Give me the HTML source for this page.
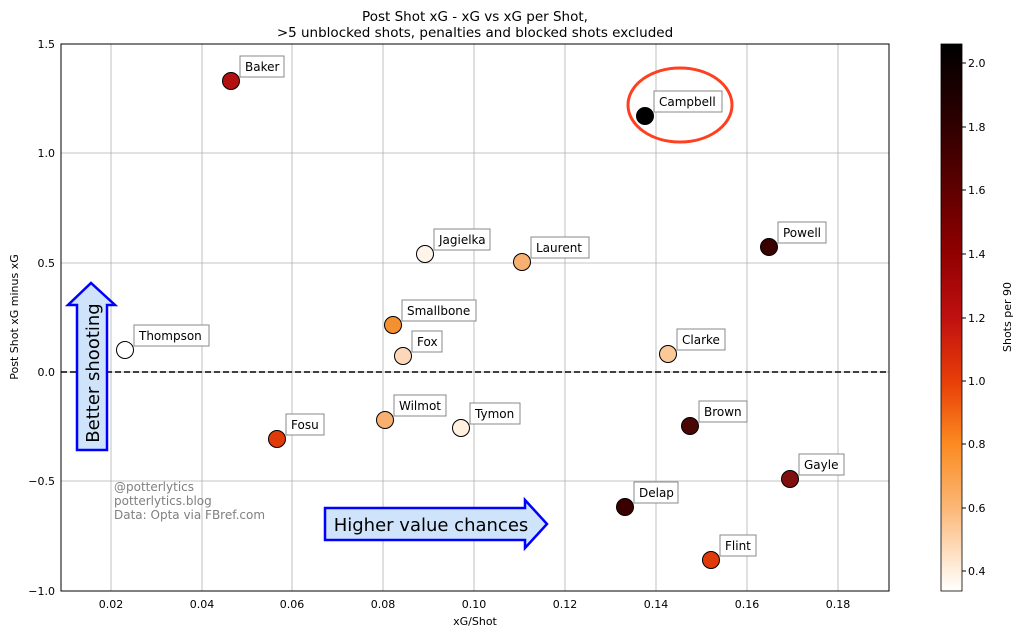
<!DOCTYPE html><html><head><style>body{margin:0;background:#fff}svg{display:block;font-family:"DejaVu Sans","Liberation Sans",sans-serif}</style></head><body>
<svg width="1022" height="637" viewBox="0 0 1022 637" xmlns="http://www.w3.org/2000/svg">
<defs><linearGradient id="cb" x1="0" y1="1" x2="0" y2="0">
<stop offset="0" stop-color="#ffffff"/><stop offset="0.035" stop-color="#fff0e0"/><stop offset="0.15" stop-color="#fbb878"/><stop offset="0.27" stop-color="#fb8a20"/><stop offset="0.38" stop-color="#e84008"/><stop offset="0.5" stop-color="#c01010"/><stop offset="0.62" stop-color="#900000"/><stop offset="0.73" stop-color="#600000"/><stop offset="0.85" stop-color="#300000"/><stop offset="1" stop-color="#000000"/></linearGradient></defs>
<text x="475" y="21" font-size="13.5" text-anchor="middle">Post Shot xG - xG vs xG per Shot,</text>
<text x="475" y="37" font-size="13.5" text-anchor="middle">&gt;5 unblocked shots, penalties and blocked shots excluded</text>
<g stroke="#b0b0b0" stroke-width="0.8">
<line x1="111" y1="44" x2="111" y2="591"/><line x1="202" y1="44" x2="202" y2="591"/><line x1="292" y1="44" x2="292" y2="591"/><line x1="383" y1="44" x2="383" y2="591"/><line x1="474" y1="44" x2="474" y2="591"/><line x1="565" y1="44" x2="565" y2="591"/><line x1="656" y1="44" x2="656" y2="591"/><line x1="747" y1="44" x2="747" y2="591"/><line x1="838" y1="44" x2="838" y2="591"/>
<line x1="61" y1="153" x2="889" y2="153"/><line x1="61" y1="263" x2="889" y2="263"/><line x1="61" y1="372" x2="889" y2="372"/><line x1="61" y1="481" x2="889" y2="481"/></g>
<line x1="61" y1="372" x2="889" y2="372" stroke="#000" stroke-width="1.5" stroke-dasharray="6,3"/>
<rect x="61" y="44" width="828" height="547" fill="none" stroke="#000" stroke-width="1"/>
<g font-size="11" text-anchor="middle">
<text x="111" y="608">0.02</text><text x="202" y="608">0.04</text><text x="292" y="608">0.06</text><text x="383" y="608">0.08</text><text x="474" y="608">0.10</text><text x="565" y="608">0.12</text><text x="656" y="608">0.14</text><text x="747" y="608">0.16</text><text x="838" y="608">0.18</text>
<text x="475" y="625">xG/Shot</text></g>
<g font-size="11" text-anchor="end">
<text x="55" y="48">1.5</text><text x="55" y="157">1.0</text><text x="55" y="267">0.5</text><text x="55" y="376">0.0</text><text x="55" y="485">−0.5</text><text x="55" y="595">−1.0</text></g>
<text transform="translate(18,317) rotate(-90)" font-size="11" text-anchor="middle">Post Shot xG minus xG</text>
<path d="M77,450 L77,305 L68,305 L91,283 L115,305 L107,305 L107,450 Z" fill="#cfe4fb" stroke="#0000ff" stroke-width="2.5"/>
<text transform="translate(99,373) rotate(-90)" font-size="18" text-anchor="middle">Better shooting</text>
<path d="M325,508 L525,508 L525,500 L547,524 L525,548 L525,540 L325,540 Z" fill="#cfe4fb" stroke="#0000ff" stroke-width="2.5"/>
<text x="431" y="531" font-size="18" text-anchor="middle">Higher value chances</text>
<g font-size="12" fill="#808080"><text x="114" y="491">@potterlytics</text><text x="114" y="505">potterlytics.blog</text><text x="114" y="519">Data: Opta via FBref.com</text></g>
<ellipse cx="680" cy="105" rx="52" ry="37" fill="none" stroke="#ff4020" stroke-width="3"/>
<g stroke="#000" stroke-width="1">
<circle cx="231" cy="81" r="8.5" fill="#b31010"/><circle cx="645" cy="116" r="8.5" fill="#000"/><circle cx="425" cy="254" r="8.5" fill="#fff4ea"/><circle cx="522" cy="262" r="8.5" fill="#f8b070"/><circle cx="769" cy="247" r="8.5" fill="#3a0000"/><circle cx="393" cy="325" r="8.5" fill="#f59030"/><circle cx="125" cy="350" r="8.5" fill="#fff"/><circle cx="403" cy="356" r="8.5" fill="#fdd8b8"/><circle cx="668" cy="354" r="8.5" fill="#fbc898"/><circle cx="385" cy="420" r="8.5" fill="#f8b070"/><circle cx="461" cy="428" r="8.5" fill="#fff0e0"/><circle cx="690" cy="426" r="8.5" fill="#4a0505"/><circle cx="277" cy="439" r="8.5" fill="#e03a08"/><circle cx="790" cy="479" r="8.5" fill="#801010"/><circle cx="625" cy="507" r="8.5" fill="#3a0000"/><circle cx="711" cy="560" r="8.5" fill="#e03a08"/></g>
<g font-size="12"><g fill="#fff" stroke="#888" stroke-width="1">
<rect x="240" y="56" width="44" height="21"/><rect x="654" y="91" width="68" height="21"/><rect x="434" y="229" width="56" height="21"/><rect x="531" y="237" width="58" height="21"/><rect x="778" y="222" width="48" height="21"/><rect x="402" y="300" width="74" height="21"/><rect x="134" y="325" width="75" height="21"/><rect x="412" y="331" width="30" height="21"/><rect x="677" y="329" width="48" height="21"/><rect x="394" y="395" width="52" height="21"/><rect x="470" y="403" width="50" height="21"/><rect x="699" y="401" width="48" height="21"/><rect x="286" y="414" width="38" height="21"/><rect x="799" y="454" width="45" height="21"/><rect x="634" y="482" width="44" height="21"/><rect x="720" y="535" width="36" height="21"/></g>
<text x="245" y="71">Baker</text><text x="659" y="106">Campbell</text><text x="439" y="244">Jagielka</text><text x="536" y="252">Laurent</text><text x="783" y="237">Powell</text><text x="407" y="315">Smallbone</text><text x="139" y="340">Thompson</text><text x="417" y="346">Fox</text><text x="682" y="344">Clarke</text><text x="399" y="410">Wilmot</text><text x="475" y="418">Tymon</text><text x="704" y="416">Brown</text><text x="291" y="429">Fosu</text><text x="804" y="469">Gayle</text><text x="639" y="497">Delap</text><text x="725" y="550">Flint</text></g>
<rect x="941" y="44" width="21" height="547" fill="url(#cb)" stroke="#000" stroke-width="0.8"/>
<g font-size="11"><text x="968" y="67">2.0</text><text x="968" y="131">1.8</text><text x="968" y="194">1.6</text><text x="968" y="258">1.4</text><text x="968" y="322">1.2</text><text x="968" y="385">1.0</text><text x="968" y="448">0.8</text><text x="968" y="512">0.6</text><text x="968" y="575">0.4</text></g>
<g stroke="#000"><line x1="962" y1="63" x2="966" y2="63"/><line x1="962" y1="127" x2="966" y2="127"/><line x1="962" y1="190" x2="966" y2="190"/><line x1="962" y1="254" x2="966" y2="254"/><line x1="962" y1="318" x2="966" y2="318"/><line x1="962" y1="381" x2="966" y2="381"/><line x1="962" y1="444" x2="966" y2="444"/><line x1="962" y1="508" x2="966" y2="508"/><line x1="962" y1="571" x2="966" y2="571"/></g>
<text transform="translate(1011,317) rotate(-90)" font-size="11" text-anchor="middle">Shots per 90</text>
</svg></body></html>
